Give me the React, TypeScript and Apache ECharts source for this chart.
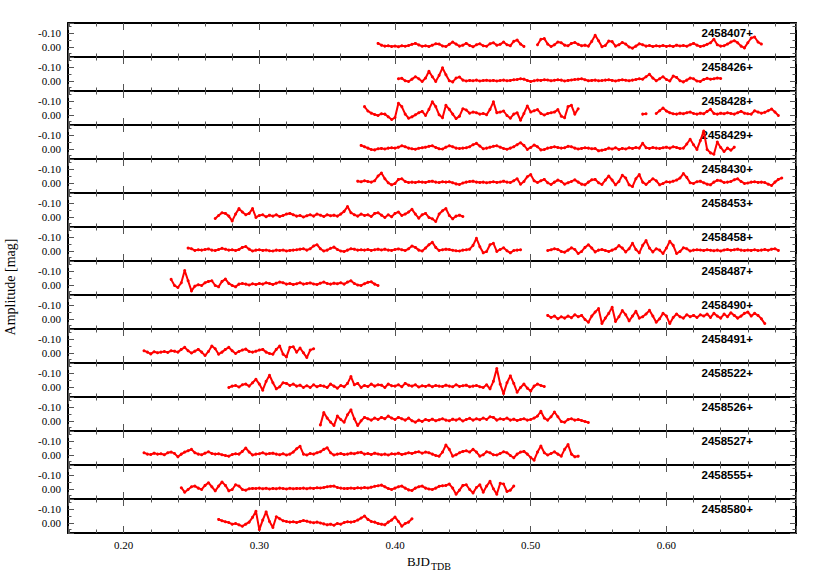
import React, { useEffect, useRef } from 'react';
import * as echarts from 'echarts';

// Observation cadence (days) and x range (fraction of BJD_TDB day)
const CADENCE = 0.0025;
const X_MIN = 0.159;
const X_MAX = 0.6955;
const Y_MIN = -0.175;
const Y_MAX = 0.075;

const NIGHTS = [
  '2458407+', '2458426+', '2458428+', '2458429+', '2458430+',
  '2458453+', '2458458+', '2458487+', '2458490+', '2458491+',
  '2458522+', '2458526+', '2458527+', '2458555+', '2458580+',
];

// Amplitudes in mmag, one per cadence step from the segment start time
const n407a = [-25,-12,-5,-8,-2,-6,0,-8,-4,-10,-18,-25,-14,-4,-8,-2,-12,-22,-20,-6,-2,-18,-35,-20,-5,-12,-25,-10,0,-15,-22,-8,-4,-22,-30,-12,-18,-35,-15,-8,-40,-50,-20,-3];
const n407b = [-15,-55,-60,-20,-2,-15,-35,-30,-12,-8,-25,-32,-18,-8,-12,-5,-40,-85,-45,0,-10,-42,-38,-5,-15,-32,-20,2,10,-5,-22,-15,-5,-10,-2,-8,-4,-10,-3,-8,-2,-12,-6,-10,-4,-15,-25,-12,-2,-8,-18,-30,-55,-15,-5,-8,-20,-35,-45,-30,-5,8,-30,-65,-72,-35,-20];
const n426 = [-15,-18,0,5,-12,-30,-15,5,-20,-70,-30,5,-40,-95,-45,0,8,-20,-28,-5,2,-3,0,-5,2,-2,-4,0,-3,2,-2,-5,0,-3,-8,-10,-15,-12,-2,5,0,-5,-3,-8,-6,0,-4,-8,-5,2,-3,-6,-10,-12,-15,-8,0,-3,-5,0,-2,-5,-8,-3,2,-4,-8,-4,0,-5,-10,-15,-12,-30,-48,-20,0,-15,-30,-10,2,-35,-25,0,8,-5,-20,-15,2,5,-10,-18,-12,-15,-20,-17];
const n428a = [-60,-28,-12,-2,5,-8,-5,15,35,20,-85,-60,-5,25,15,0,-15,-25,5,-40,-95,-60,0,22,-70,-40,-5,28,10,-45,-35,-12,-20,-15,-5,-10,0,-40,-95,-15,-20,-28,5,25,-5,-15,40,-10,-65,-20,-30,-38,-10,2,-10,-15,-20,-38,10,22,-60,-70,-5,-45];
const n428b = [-5,-8];
const n428c = [-10,-30,-50,-28,-15,-8,-5,-12,-8,-15,-20,-10,-5,-12,-8,-25,-40,-10,-5,-12,-8,-15,-10,-5,-15,-25,-12,-8,-5,-30,-20,-12,-18,-30,-42,-20,5];
const n429 = [-25,-15,-5,5,8,0,-3,2,-5,-8,-5,-12,-22,-15,-5,0,3,-4,-8,-12,-18,-22,-10,0,2,-12,-22,-15,-5,-2,-5,-8,-15,-30,-40,-20,0,-5,-12,-18,-22,-12,-2,3,-5,-15,-30,-45,-25,5,-10,-28,-15,8,5,-5,-10,-15,-10,-5,-8,-18,-15,-5,2,-3,-8,-5,0,-2,15,10,5,-5,2,-8,5,-3,2,-8,-2,-10,-5,-40,-8,-3,-10,-5,-2,-8,-12,-5,-15,-10,-2,-5,-35,-70,-30,5,-60,-130,5,30,40,-50,-10,20,-5,10,-12];
const n430 = [-12,-8,-15,-10,-5,-15,-50,-72,-30,0,15,5,-25,-30,-10,-2,-5,-2,-8,-5,-3,-10,-12,-5,-2,-8,-5,-8,0,8,12,2,-5,-10,-12,-5,-3,-5,0,-4,-8,-3,-6,-12,-5,-2,-15,-30,10,-10,-45,-60,-15,-2,-15,-25,0,12,-5,-20,-10,10,0,-10,-22,-5,10,15,-5,-22,-25,0,12,-20,-50,-20,15,-10,-55,-35,15,28,-30,-60,-5,12,-10,-30,-15,15,5,-8,-5,-12,-20,-35,-68,-40,0,5,-8,-12,0,10,15,-5,-18,-15,-2,-5,-10,-22,-30,-10,5,2,-5,-8,-3,-5,-2,10,20,-5,-25,-35];
const n453 = [12,-10,-30,-25,-5,30,-20,-60,-35,-15,-25,-60,5,-10,-15,0,-12,-5,-15,-2,-10,-20,-25,-15,-5,-10,2,-8,-15,-5,-20,-12,-2,-15,-8,-12,-5,-20,-40,-75,-30,-15,-5,-20,-10,-15,-2,-25,-30,-12,5,-15,0,-25,-35,-10,-20,-35,-55,-20,10,-15,-25,5,15,35,-20,-45,-60,-10,15,-5,-12,-2];
const n458a = [-20,-15,-3,-8,-5,-10,-14,-5,-2,-10,-18,-12,-5,-8,-2,-10,-25,-32,-12,2,-5,-8,-3,-6,0,2,-5,-2,-6,2,-3,-5,-8,-12,-15,-5,-15,-35,-45,-15,2,-5,-18,-27,-10,2,5,-5,-15,-12,-5,-8,-5,-10,-3,-8,-12,-6,-12,-5,-3,-10,-14,-8,-2,-15,-35,-25,-5,2,-20,-45,-62,-25,-3,-8,-12,-10,-4,0,2,-5,-8,-12,-40,-92,-30,15,5,-45,-55,5,-10,-22,0,15,-2,-5,-8];
const n458b = [-2,-8,-15,-10,5,10,-5,-22,-10,20,5,-25,-45,-20,8,-5,-10,-2,5,-5,-15,-38,-20,8,-15,-55,-10,15,-40,-75,-20,8,-15,-5,20,-20,-70,-40,20,5,-22,-15,2,-5,-8,-6,-2,-8,-4,0,-5,2,-6,-10,-4,-8,-12,-5,-2,-6,-3,-8,-2,-5,-10,-4,-12,-15,-3];
const n487 = [-40,5,20,-15,-105,-30,45,10,0,5,-15,-25,-30,5,15,-25,-42,-10,5,15,-5,-10,-5,2,-8,-2,-10,-5,-15,-10,-2,-12,-20,-15,-5,-10,-2,-8,-15,-5,-10,-14,-6,-2,-12,-20,-10,-5,-12,-8,-15,-5,-20,-30,-10,2,5,-8,-18,-22,-5,5];
const n490 = [-25,-10,-20,0,-15,-5,-20,-8,-30,-15,-25,5,25,-20,-50,-75,35,-5,-40,-85,20,-15,-60,-30,15,-20,-55,-5,-15,-35,-62,-20,25,0,-40,-20,35,-10,-35,-15,-5,-30,-15,-25,-10,-30,-20,-35,-10,-40,-20,-5,-35,-15,-45,-25,-5,-20,-40,-50,-20,-40,-25,0,35];
const n491 = [-15,-5,8,-8,0,-5,-10,-3,-15,-12,-5,-25,-40,-15,2,-12,-25,-5,20,-10,-50,-30,10,-5,-25,-40,-15,5,-10,-20,-27,-10,-5,-12,-20,-25,-5,5,10,-25,-50,10,30,-40,-45,-5,-35,0,35,-20,-30];
const n522 = [5,-5,-10,2,-15,-20,-5,-30,-55,-20,25,-40,-85,-30,15,0,-30,-25,-10,-20,-5,-12,5,-8,5,-15,0,-10,-5,5,-20,-5,10,-10,0,-25,-75,-15,-25,5,-10,-2,-20,-5,-15,-12,5,-20,-8,-5,-15,0,-25,-12,-5,-15,2,-8,-3,-12,0,-10,-5,-2,-12,-5,0,-15,-3,-8,-12,0,-5,-10,0,5,-15,15,-40,-135,-20,50,-30,-80,-25,40,5,-20,10,30,-5,-20,-10,-2];
const n526 = [30,-60,-20,10,35,-35,-10,10,-45,-80,-15,35,0,-25,-15,-5,-20,-10,-25,-15,-35,-20,-10,-25,-15,-5,-20,0,10,-5,5,-10,-2,-12,0,-8,-15,-5,0,-12,-5,-15,2,-10,-18,-5,-15,-8,-20,-10,-30,-25,-5,-15,-10,-20,-5,-12,-2,-10,-15,-5,-10,-20,-35,-70,-20,-5,-30,-65,-30,5,10,-10,-15,-5,-10,-2,5,12];
const n527 = [-15,-5,-2,-12,-5,-8,0,-15,-20,-10,15,-5,-20,-30,-40,-15,-5,0,-12,-22,-10,-5,-8,0,5,10,-2,-8,-5,-25,-50,-20,2,-5,-8,-15,-5,-10,-12,-5,0,-8,2,-5,-20,-45,-62,-5,2,-10,-5,-15,-22,-40,-52,-15,2,-5,-10,-2,-5,-12,-8,-15,-18,-5,-10,-2,-12,-6,0,-5,2,-8,-5,-12,-2,-8,-15,-10,-18,-22,-12,-20,-15,-5,5,10,-20,-72,-40,10,0,-15,-25,-30,-20,-40,-20,10,0,-22,-15,0,2,-10,-22,-15,5,22,-5,-20,-25,-5,20,40,-20,-65,-15,2,-10,-22,-5,10,-40,-75,-5,15,10];
const n555 = [-8,25,5,-15,-20,-5,5,-25,-45,-15,15,-20,-50,-25,15,5,-30,-20,5,10,0,-3,-2,-5,0,-4,2,-3,0,-5,-2,2,-4,0,-3,-2,-5,0,-6,-3,-8,-6,-10,-15,-18,-20,-10,-5,-2,-3,-6,-2,-8,-5,-10,-6,-12,-18,-22,-27,-15,-2,5,-5,-15,-20,-5,8,12,-5,-15,-20,-5,2,5,-5,-18,-22,-25,-35,-5,40,10,-25,-30,5,30,-10,-30,25,-20,-55,0,40,-40,-35,20,10,-20];
const n580 = [-25,-15,-8,-2,10,5,15,25,10,-5,-40,-85,50,-20,-80,-10,35,-45,-30,-15,-10,-5,-8,-2,-10,-17,-12,-5,0,-5,2,8,15,10,18,5,10,-2,-8,-5,-10,-20,-35,-50,-25,-10,-5,5,10,15,-5,-20,-42,-10,25,5,-5,-30];

// [panel index, segment start time, amplitudes]
const SEGMENTS: [number, number, number[]][] = [
  [0, 0.3875, n407a], [0, 0.505, n407b],
  [1, 0.4025, n426],
  [2, 0.3775, n428a], [2, 0.5825, n428b], [2, 0.5925, n428c],
  [3, 0.375, n429],
  [4, 0.3725, n430],
  [5, 0.2675, n453],
  [6, 0.2475, n458a], [6, 0.5125, n458b],
  [7, 0.235, n487],
  [8, 0.5125, n490],
  [9, 0.215, n491],
  [10, 0.2775, n522],
  [11, 0.345, n526],
  [12, 0.215, n527],
  [13, 0.2425, n555],
  [14, 0.27, n580],
];

const LEFT = 68;
const TOP = 23;
const PANEL_H = 34;
const WIDTH = 728;
const SERIF = '"Liberation Serif", "DejaVu Serif", serif';
const SANS = '"Liberation Sans", Arial, sans-serif';

function fmtNice(v: number): string {
  const r = Math.round(v * 10) / 10;
  if (Math.abs(v - r) > 1e-6) return '';
  return (Math.abs(r) < 1e-9 ? 0 : r).toFixed(2);
}

function buildOption() {
  const n = NIGHTS.length;
  const grid: any[] = [];
  const xAxis: any[] = [];
  const yAxis: any[] = [];
  const series: any[] = [];
  const graphic: any[] = [];
  const tickStyle = { color: '#555', width: 1 };
  for (let i = 0; i < n; i++) {
    const top = TOP + PANEL_H * i;
    grid.push({ left: LEFT, top, width: WIDTH, height: PANEL_H });
    ['bottom', 'top'].forEach((pos) => {
      const showLabel = i === n - 1 && pos === 'bottom';
      xAxis.push({
        type: 'value', gridIndex: i, position: pos,
        min: X_MIN, max: X_MAX, minInterval: 0.1, maxInterval: 0.1, splitNumber: 5,
        axisLine: { show: true, onZero: false, lineStyle: { color: '#000', width: 2 } },
        axisTick: { show: true, inside: true, length: 7, lineStyle: tickStyle },
        minorTick: { show: true, splitNumber: 5, length: 3.5, lineStyle: tickStyle },
        splitLine: { show: false }, minorSplitLine: { show: false },
        axisLabel: {
          show: showLabel, margin: 6, color: '#000', fontFamily: SERIF, fontSize: 11,
          showMinLabel: false, showMaxLabel: false, formatter: fmtNice,
        },
      });
    });
    ['left', 'right'].forEach((pos) => {
      yAxis.push({
        type: 'value', gridIndex: i, position: pos, inverse: true,
        min: Y_MIN, max: Y_MAX, minInterval: 0.1, maxInterval: 0.1, splitNumber: 3,
        axisLine: { show: true, onZero: false, lineStyle: { color: '#000', width: 2 } },
        axisTick: { show: true, inside: true, length: 6, lineStyle: tickStyle },
        minorTick: { show: true, splitNumber: 2, length: 3.5, lineStyle: tickStyle },
        splitLine: { show: false }, minorSplitLine: { show: false },
        axisLabel: {
          show: pos === 'left', margin: 7, color: '#000', fontFamily: SERIF, fontSize: 11,
          showMinLabel: false, showMaxLabel: false, formatter: fmtNice,
        },
      });
    });
    const data: any[] = [];
    SEGMENTS.filter((s) => s[0] === i).forEach(([, start, amps]) => {
      if (data.length) data.push(['-', '-']);
      amps.forEach((a, k) => data.push([start + k * CADENCE, a / 1000]));
    });
    series.push({
      type: 'line', xAxisIndex: 2 * i, yAxisIndex: 2 * i, data,
      connectNulls: false, showSymbol: true, symbol: 'circle', symbolSize: 3,
      silent: true, clip: true,
      lineStyle: { color: '#ff0000', width: 2 },
      itemStyle: { color: '#ff0000', borderWidth: 0 },
    });
    graphic.push({
      type: 'text', x: 753, y: top + 9.5, silent: true,
      style: { text: NIGHTS[i], fill: '#000', fontFamily: SANS, fontWeight: 'bold', fontSize: 11.5, align: 'right', verticalAlign: 'middle' },
    });
  }
  graphic.push({
    type: 'text', x: 10, y: 287, rotation: Math.PI / 2, silent: true,
    style: { text: 'Amplitude [mag]', fill: '#000', fontFamily: SERIF, fontSize: 14, align: 'center', verticalAlign: 'middle' },
  });
  graphic.push({
    type: 'text', x: 430, y: 561.5, silent: true,
    style: { text: 'BJD', fill: '#000', fontFamily: SERIF, fontSize: 13, align: 'right', verticalAlign: 'middle' },
  });
  graphic.push({
    type: 'text', x: 431, y: 566.5, silent: true,
    style: { text: 'TDB', fill: '#000', fontFamily: SERIF, fontSize: 10, align: 'left', verticalAlign: 'middle' },
  });
  return {
    animation: false,
    backgroundColor: '#fff',
    grid, xAxis, yAxis, series, graphic,
  };
}

export default function App() {
  const ref = useRef<HTMLDivElement>(null);
  useEffect(() => {
    if (!ref.current) return;
    const chart = echarts.init(ref.current, undefined, { renderer: 'svg' });
    chart.setOption(buildOption() as any);
    return () => chart.dispose();
  }, []);
  return (
    <div
      ref={ref}
      style={{ position: 'fixed', left: 0, top: 0, width: 830, height: 581, background: '#fff' }}
    />
  );
}
